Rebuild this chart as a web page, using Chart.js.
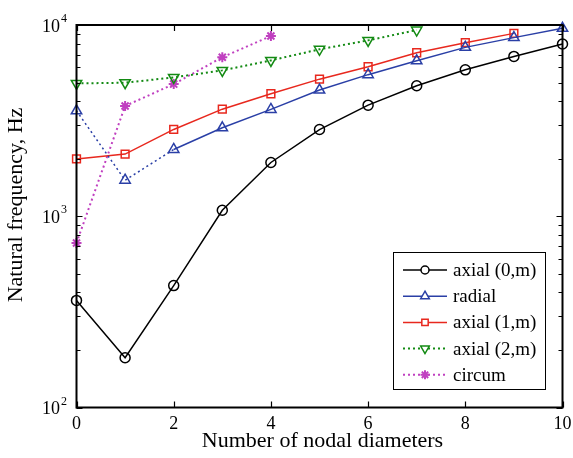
<!DOCTYPE html>
<html>
<head>
<meta charset="utf-8">
<script src="https://cdn.jsdelivr.net/npm/chart.js@4/dist/chart.umd.min.js"></script>
<style>
  html, body { margin: 0; padding: 0; background: #fff; }
  #wrap { width: 573px; height: 458px; }
</style>
</head>
<body>
<div id="wrap"><canvas id="freqChart" width="573" height="458"></canvas></div>
<script>
// Werte
const nodalDiameters = [0, 1, 2, 3, 4, 5, 6, 7, 8, 9, 10];
const axial0 = [363, 182, 434, 1075, 1910, 2840, 3810, 4810, 5830, 6850, 7950];
const radial = [3560, 1543, 2235, 2900, 3620, 4570, 5500, 6500, 7640, 8590, 9610];
const axial1 = [1995, 2113, 2844, 3630, 4370, 5210, 6050, 7160, 8080, 9040];
const axial2 = [4950, 4990, 5320, 5790, 6530, 7460, 8310, 9410];
const circum = [725, 3770, 4910, 6780, 8760];
const xTicks = [0, 2, 4, 6, 8, 10];
const yDecades = [2, 3, 4];

const FONT = '"Liberation Serif", "Times New Roman", serif';

function toPoints(values) {
    return values.map((v, i) => ({ x: nodalDiameters[i], y: v }));
}

const dotted = [2, 3];

const datasets = [
    { label: 'axial (0,m)', data: toPoints(axial0), borderColor: '#000000', pointStyle: 'circle',
      pointRadius: 5, borderWidth: 1.5, pointBorderWidth: 1.5, dash: [], legendRadius: 4 },
    { label: 'radial', data: toPoints(radial), borderColor: '#2a3fa6', pointStyle: 'triangle',
      pointRadius: 6, borderWidth: 1.5, pointBorderWidth: 1.5, dash: [], legendRadius: 5,
      segment: { borderDash: ctx => ctx.p0DataIndex < 2 ? dotted : undefined } },
    { label: 'axial (1,m)', data: toPoints(axial1), borderColor: '#e8281e', pointStyle: 'rect',
      pointRadius: 5.5, borderWidth: 1.5, pointBorderWidth: 1.5, dash: [], legendRadius: 4.5 },
    { label: 'axial (2,m)', data: toPoints(axial2), borderColor: '#138a13', pointStyle: 'triangle',
      pointRotation: 180, pointRadius: 6, borderWidth: 2, pointBorderWidth: 1.5, borderDash: dotted,
      dash: dotted, legendRadius: 5 },
    { label: 'circum', data: toPoints(circum), borderColor: '#c040c0', pointStyle: 'star',
      pointRadius: 5, borderWidth: 2, pointBorderWidth: 2, borderDash: dotted, dash: dotted, legendRadius: 4.5 }
].map(d => Object.assign({
    backgroundColor: 'rgba(0,0,0,0)',
    pointBackgroundColor: 'rgba(0,0,0,0)',
    pointBorderColor: d.borderColor,
    tension: 0,
    clip: false
}, d));

// Achsen, Ticks und Beschriftungen im MATLAB-Stil
const axesPlugin = {
    id: 'axesPlugin',
    afterDatasetsDraw(chart) {
        const { ctx, chartArea: a, scales } = chart;
        const xs = scales.x, ys = scales.y;
        ctx.save();
        ctx.strokeStyle = '#000';
        ctx.lineWidth = 1.2;
        // Ticks
        ctx.beginPath();
        xTicks.forEach(t => {
            const px = Math.round(xs.getPixelForValue(t)) + 0.5;
            ctx.moveTo(px, a.bottom); ctx.lineTo(px, a.bottom - 6);
            ctx.moveTo(px, a.top); ctx.lineTo(px, a.top + 6);
        });
        for (let d = 2; d <= 3; d++) {
            for (let m = 1; m <= 9; m++) {
                const py = Math.round(ys.getPixelForValue(m * Math.pow(10, d))) + 0.5;
                const len = m === 1 ? 6 : 4;
                ctx.moveTo(a.left, py); ctx.lineTo(a.left + len, py);
                ctx.moveTo(a.right, py); ctx.lineTo(a.right - len, py);
            }
        }
        ctx.stroke();
        // Rahmen
        ctx.lineWidth = 2;
        ctx.strokeRect(a.left, a.top, a.right - a.left, a.bottom - a.top);

        ctx.fillStyle = '#000';
        // x-Beschriftungen
        ctx.font = '18px ' + FONT;
        ctx.textAlign = 'center';
        ctx.textBaseline = 'middle';
        xTicks.forEach(t => ctx.fillText(String(t), xs.getPixelForValue(t), 424));
        // y-Beschriftungen 10^n
        yDecades.forEach(d => {
            const py = ys.getPixelForValue(Math.pow(10, d));
            ctx.font = '18px ' + FONT;
            ctx.textAlign = 'right';
            ctx.textBaseline = 'middle';
            ctx.fillText('10', 60, py + 2);
            ctx.font = '12px ' + FONT;
            ctx.textAlign = 'left';
            ctx.fillText(String(d), 61, py - 6);
        });
        // Achsentitel
        ctx.font = '22px ' + FONT;
        ctx.textAlign = 'center';
        ctx.textBaseline = 'alphabetic';
        ctx.fillText('Number of nodal diameters', (a.left + a.right) / 2 + 3, 447);
        ctx.save();
        ctx.translate(22, 205);
        ctx.rotate(-Math.PI / 2);
        ctx.fillText('Natural frequency, Hz', 0, 0);
        ctx.restore();
        ctx.restore();
    }
};

// Legende innerhalb der Zeichenfläche
const legendPlugin = {
    id: 'boxLegend',
    afterDraw(chart) {
        const { ctx } = chart;
        const box = { x: 393.5, y: 252.5, w: 152, h: 137 };
        ctx.save();
        ctx.fillStyle = '#fff';
        ctx.fillRect(box.x, box.y, box.w, box.h);
        ctx.strokeStyle = '#000';
        ctx.lineWidth = 1;
        ctx.strokeRect(box.x, box.y, box.w, box.h);
        chart.data.datasets.forEach((ds, i) => {
            const y = 270 + i * 26.2;
            const x0 = 403, x1 = 447, xm = (x0 + x1) / 2;
            ctx.strokeStyle = ds.borderColor;
            ctx.lineWidth = ds.borderWidth;
            ctx.setLineDash(ds.dash);
            ctx.beginPath();
            ctx.moveTo(x0, y); ctx.lineTo(x1, y);
            ctx.stroke();
            ctx.setLineDash([]);
            ctx.lineWidth = ds.pointBorderWidth;
            ctx.fillStyle = '#fff';
            Chart.helpers.drawPoint(ctx, {
                pointStyle: ds.pointStyle,
                rotation: ds.pointRotation || 0,
                radius: ds.legendRadius,
                borderWidth: ds.pointBorderWidth
            }, xm, y);
            ctx.fillStyle = '#000';
            ctx.font = '19px ' + FONT;
            ctx.textAlign = 'left';
            ctx.textBaseline = 'middle';
            ctx.fillText(ds.label, 453, y + 1);
        });
        ctx.restore();
    }
};

const ctx = document.getElementById('freqChart').getContext('2d');
new Chart(ctx, {
    type: 'line',
    data: { datasets: datasets },
    options: {
        responsive: false,
        animation: false,
        devicePixelRatio: 1,
        layout: { padding: { left: 76.5, right: 10.5, top: 25, bottom: 50.5 } },
        plugins: { legend: { display: false }, tooltip: { enabled: false } },
        scales: {
            x: { type: 'linear', min: 0, max: 10, display: false },
            y: { type: 'logarithmic', min: 100, max: 10000, display: false }
        }
    },
    plugins: [axesPlugin, legendPlugin]
});
</script>
</body>
</html>
